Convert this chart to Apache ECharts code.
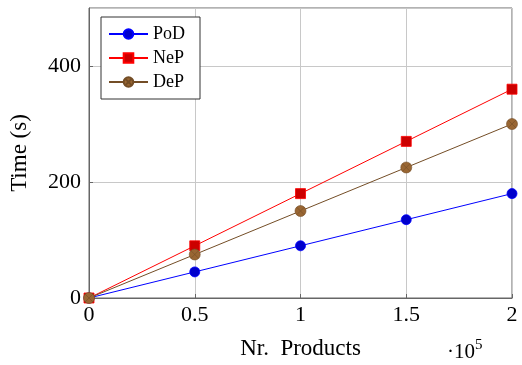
<!DOCTYPE html>
<html>
<head>
<meta charset="utf-8">
<script src="https://cdn.jsdelivr.net/npm/echarts@6/dist/echarts.min.js"></script>
<style>
  html, body { margin: 0; padding: 0; background: #fff; }
  #chart { width: 522px; height: 365px; }
</style>
</head>
<body>
<div id="chart"></div>
<script>
const products = [0, 50000, 100000, 150000, 200000]
const podTimes = [0, 45, 90, 135, 180]
const nepTimes = [0, 90, 180, 270, 360]
const depTimes = [0, 75, 150, 225, 300]

const FONT = 'Liberation Serif'
// circle with a cross, like pgfplots otimes*
const otimes = 'path://M0,-5A5,5 0 1,1 0,5A5,5 0 1,1 0,-5Z M-3.5,-3.5L3.5,3.5M-3.5,3.5L3.5,-3.5'

const pairs = (ys) => products.map((x, i) => [x, ys[i]])

const chart = echarts.init(document.getElementById('chart'))

chart.setOption({
  animation: false,
  textStyle: { fontFamily: FONT },
  grid: {
    left: 88, right: 10, top: 8, bottom: 67,
    show: true, borderColor: '#666', borderWidth: 1,
  },
  legend: {
    orient: 'vertical',
    left: 101, top: 17,
    itemWidth: 39, itemHeight: 12, itemGap: 6,
    padding: [8, 15, 8, 7],
    backgroundColor: '#fff',
    borderColor: '#333', borderWidth: 1, borderRadius: 0,
    textStyle: { fontFamily: FONT, fontSize: 18, color: '#000' },
    data: ['PoD', 'NeP', 'DeP'],
  },
  xAxis: {
    type: 'value',
    min: 0, max: 200000, interval: 50000,
    name: 'Nr.  Products',
    nameLocation: 'middle',
    nameGap: 39,
    nameTextStyle: { fontFamily: FONT, fontSize: 23, color: '#000' },
    axisLine: { show: true, lineStyle: { color: '#666', width: 1 } },
    axisTick: { show: true, inside: true, length: 4, lineStyle: { color: '#666' } },
    axisLabel: {
      margin: 6, fontSize: 22, color: '#000', fontFamily: FONT,
      formatter: (v) => String(v / 100000),
    },
    splitLine: { show: true, lineStyle: { color: '#c8c8c8', width: 1 } },
  },
  yAxis: {
    type: 'value',
    min: 0, max: 500, interval: 200,
    name: 'Time (s)',
    nameLocation: 'middle',
    nameGap: 58,
    nameTextStyle: { fontFamily: FONT, fontSize: 23, color: '#000' },
    axisLine: { show: true, lineStyle: { color: '#666', width: 1 } },
    axisTick: { show: true, inside: true, length: 4, lineStyle: { color: '#666' } },
    axisLabel: {
      margin: 8, fontSize: 22, color: '#000', fontFamily: FONT,
      showMaxLabel: false,
      formatter: (v) => (v > 400 ? '' : String(v)),
    },
    splitLine: { show: true, lineStyle: { color: '#c8c8c8', width: 1 } },
  },
  graphic: [
    {
      type: 'text',
      left: 447, top: 338,
      style: {
        text: '{a|·10}{b|5}',
        rich: {
          a: { fontFamily: FONT, fontSize: 21, fill: '#000', verticalAlign: 'bottom' },
          b: { fontFamily: FONT, fontSize: 15, fill: '#000', verticalAlign: 'top', padding: [0, 0, 10, 0] },
        },
      },
    },
  ],
  series: [
    {
      name: 'PoD', type: 'line', data: pairs(podTimes),
      symbol: 'circle', symbolSize: 10,
      lineStyle: { color: '#0000ff', width: 1 },
      itemStyle: { color: '#0000cc', borderColor: '#0000ff', borderWidth: 0.8 },
      z: 3,
    },
    {
      name: 'NeP', type: 'line', data: pairs(nepTimes),
      symbol: 'rect', symbolSize: 10,
      lineStyle: { color: '#ff0000', width: 1 },
      itemStyle: { color: '#cc0000', borderColor: '#ff0000', borderWidth: 0.8 },
      z: 3,
    },
    {
      name: 'DeP', type: 'line', data: pairs(depTimes),
      symbol: otimes, symbolSize: 11,
      lineStyle: { color: '#734d26', width: 1 },
      itemStyle: { color: '#996633', borderColor: '#734d26', borderWidth: 0.6 },
      z: 4,
    },
  ],
})
</script>
</body>
</html>
